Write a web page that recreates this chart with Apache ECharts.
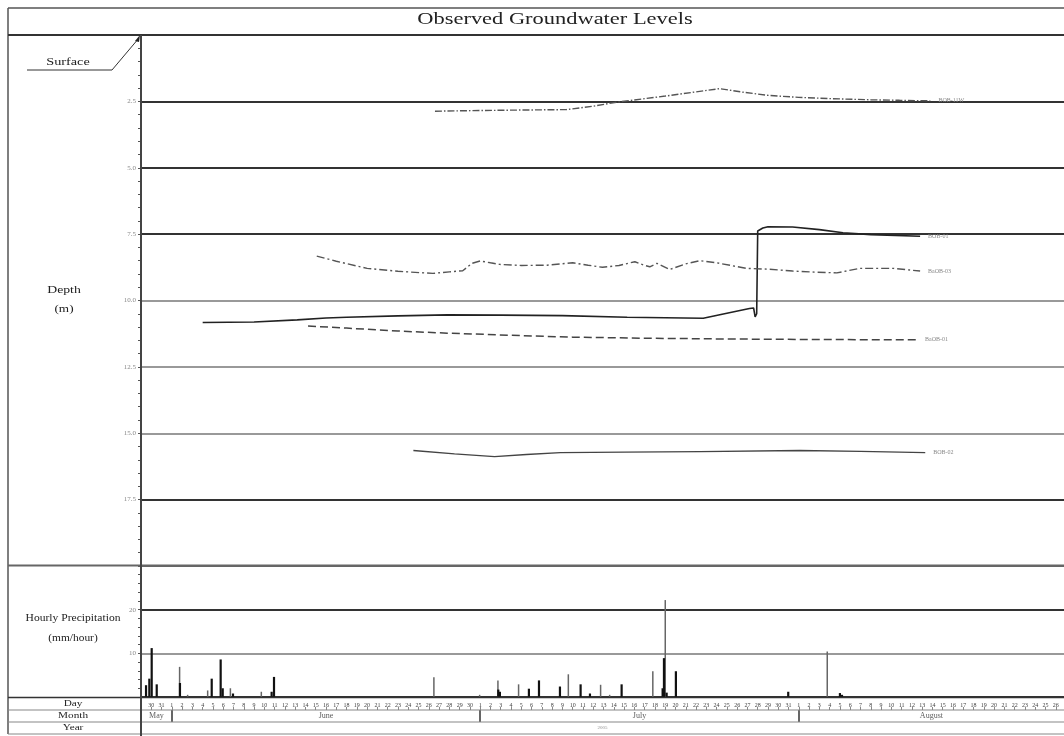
<!DOCTYPE html>
<html><head><meta charset="utf-8">
<script src="https://cdn.jsdelivr.net/npm/echarts@6/dist/echarts.min.js"></script>
<style>html,body{margin:0;padding:0;background:#fff}#c{width:1064px;height:736px}</style>
</head><body><div id="c"></div>
<script>
// x values: days since 1 June 2005 (0 = June 1)
const seriesNames = ['BOB-11W', 'BOB-01', 'BaOB-03', 'BaOB-01', 'BOB-02'];
const bob11w = [[25.6,2.87],[29,2.85],[33,2.83],[38.4,2.81],[41,2.68],[43.3,2.53],[48,2.3],[53.3,2.02],[55.5,2.15],[57.9,2.27],[61,2.35],[64.3,2.40],[68,2.44],[70.8,2.46],[73.8,2.48]];
const bob01 = [[3.0,10.83],[8,10.81],[12.2,10.73],[15,10.66],[17,10.63],[22,10.58],[26.8,10.54],[32,10.55],[38,10.57],[44.3,10.63],[48,10.65],[51.7,10.67],[54,10.48],[56.2,10.3],[56.6,10.28],[56.75,10.62],[56.9,10.5],[57.0,7.38],[57.5,7.27],[58,7.22],[60.4,7.23],[63,7.33],[65.3,7.45],[68,7.52],[72.8,7.58]];
const baob03 = [[14.1,8.33],[16,8.52],[19,8.79],[22,8.9],[25.4,8.98],[27,8.92],[28.3,8.88],[29.2,8.6],[30,8.51],[31,8.58],[31.9,8.64],[34,8.68],[36.5,8.67],[39,8.58],[40.5,8.67],[41.9,8.75],[43.5,8.68],[45.05,8.54],[46,8.68],[46.5,8.73],[47.2,8.6],[48.45,8.83],[50,8.62],[51.4,8.5],[53,8.58],[55.9,8.79],[58,8.82],[60.4,8.89],[62.5,8.93],[64.7,8.96],[66.9,8.79],[70.2,8.79],[72.8,8.89]];
const baob01 = [[13.25,10.96],[17,11.04],[22,11.15],[26.8,11.23],[33,11.31],[39,11.38],[46,11.42],[54,11.45],[63,11.47],[72.5,11.48]];
const bob02 = [[23.5,15.65],[27.5,15.78],[31.4,15.88],[34.5,15.8],[37.8,15.73],[44,15.71],[51.4,15.69],[61.1,15.65],[67,15.68],[73.3,15.73]];
const precipDark = [[-2.51,2.7],[-2.19,4.2],[-1.96,11.2],[-1.47,2.9],[0.79,3.2],[3.88,4.2],[4.75,8.6],[4.95,2],[5.95,0.8],[9.71,1.2],[9.94,4.6],[31.76,1.7],[31.92,1.2],[34.74,1.9],[35.72,3.8],[37.76,2.4],[39.77,2.9],[40.68,0.8],[43.76,2.9],[47.75,2],[47.88,8.9],[48.14,1],[49.04,5.9],[59.97,1.2],[65.0,0.9],[65.2,0.5]];
const precipLight = [[0.79,6.9],[1.57,0.5],[3.52,1.5],[5.73,2],[8.74,1.2],[25.53,4.5],[29.98,0.5],[31.76,3.8],[33.77,2.9],[38.61,5.2],[41.75,2.8],[42.63,0.5],[46.83,5.9],[48.04,22.2],[63.8,10.4]];
const monthNames = ['May', 'June', 'July', 'August'];
const monthStarts = [-3, 0, 30, 61];
const monthEnds = [0, 30, 61, 86.8];
const yearLabel = '2005';
const depthTicks = [2.5, 5.0, 7.5, 10.0, 12.5, 15.0, 17.5];
const precipTicks = [10, 20];

const X_MIN = -3, X_MAX = 86.8;
const L = 141;
const serif = 'Liberation Serif, Times New Roman, serif';

const chart = echarts.init(document.getElementById('c'), null, {renderer: 'canvas'});

function xAx(gi, extra) {
  return Object.assign({type: 'value', gridIndex: gi, min: X_MIN, max: X_MAX, show: false}, extra || {});
}
function yHidden(gi) { return {type: 'value', gridIndex: gi, min: 0, max: 1, show: false}; }

const lineStyles = [
  {color: '#555', width: 1.4, type: [7, 2, 1.5, 2]},
  {color: '#222', width: 1.6, type: 'solid'},
  {color: '#555', width: 1.4, type: [8, 3, 2, 3]},
  {color: '#444', width: 1.5, type: [8, 4]},
  {color: '#444', width: 1.3, type: 'solid'}
];
const lineData = [bob11w, bob01, baob03, baob01, bob02];

const lineSeries = lineData.map((d, i) => ({
  type: 'line', name: seriesNames[i], xAxisIndex: 0, yAxisIndex: 0,
  data: d, symbol: 'none', smooth: false,
  lineStyle: lineStyles[i],
  endLabel: {show: true, formatter: seriesNames[i], fontSize: 6, color: '#888', distance: 8, fontFamily: serif},
  z: 3
}));

const dayFmt = v => {
  const dt = new Date(2005, 5, 1 + Math.round(v));
  return String(dt.getDate());
};

const frame = [
  [8, 8, 1064, 8, '#555', 1.5],
  [8, 8, 8, 734, '#555', 1.5],
  [8, 35, 1064, 35, '#333', 2],
  [8, 565.5, 1064, 565.5, '#666', 2],
  [8, 697.5, 1064, 697.5, '#333', 1.5],
  [8, 710, 1064, 710, '#888', 1.2],
  [8, 722, 1064, 722, '#888', 1.2],
  [8, 734, 1064, 734, '#888', 1.2],
  [L, 35, L, 736, '#444', 2],
  [27, 70, 112, 70, '#333', 1],
  [112, 70, 139, 38, '#333', 1]
].map(a => ({type: 'line', shape: {x1: a[0], y1: a[1], x2: a[2], y2: a[3]}, style: {stroke: a[4], lineWidth: a[5]}, z: 10}));

const texts = [
  ['Observed Groundwater Levels', 555, 20, 17, 1.32],
  ['Surface', 68, 62, 9.5, 1.5],
  ['Depth', 64, 290, 11, 1.25],
  ['(m)', 64, 309, 11, 1.2],
  ['Hourly Precipitation', 73, 618, 9.5, 1.22],
  ['(mm/hour)', 73, 638, 9.5, 1.2],
  ['Day', 73, 704, 9, 1.25],
  ['Month', 73, 716, 9, 1.25],
  ['Year', 73, 728, 9, 1.25]
].map(a => ({type: 'text', x: a[1], y: a[2], z: 10, scaleX: a[4],
  style: {text: a[0], fontSize: a[3], fontFamily: serif, fill: '#222', align: 'center', verticalAlign: 'middle'}}));

const arrow = {type: 'polygon', shape: {points: [[140, 35], [135, 41], [139, 42]]}, style: {fill: '#222'}, z: 10};

const depthColors = ['#333', '#333', '#333', '#333', '#999', '#999', '#999', '#333', '#666'];

chart.setOption({
  animation: false,
  backgroundColor: '#fff',
  grid: [
    {left: L, right: 0, top: 35, height: 531},
    {left: L, right: 0, top: 566, height: 131},
    {left: L, right: 0, top: 698, height: 12},
    {left: L, right: 0, top: 710, height: 12},
    {left: L, right: 0, top: 722, height: 12}
  ],
  xAxis: [
    xAx(0), xAx(1),
    xAx(2, {show: true, interval: 1, position: 'bottom',
      axisLine: {show: false},
      axisTick: {show: true, inside: true, length: 3, lineStyle: {color: '#888'}},
      splitLine: {show: false},
      axisLabel: {show: true, inside: true, margin: 2, fontSize: 6, color: '#444', fontFamily: serif,
        showMinLabel: false, showMaxLabel: false, formatter: dayFmt, hideOverlap: false, interval: 0}
    }),
    xAx(3), xAx(4)
  ],
  yAxis: [
    {type: 'value', gridIndex: 0, inverse: true, min: 0, max: 20, interval: 2.5,
      axisLine: {show: true, onZero: false, lineStyle: {color: '#444', width: 2}},
      axisTick: {show: true, length: 3, lineStyle: {color: '#555'}},
      minorTick: {show: true, splitNumber: 5, length: 3, lineStyle: {color: '#555'}},
      splitLine: {show: true, lineStyle: {color: depthColors, width: 1.8}},
      axisLabel: {fontSize: 7, color: '#888', fontFamily: serif, margin: 5,
        formatter: v => depthTicks.indexOf(v) >= 0 ? v.toFixed(1) : ''}
    },
    {type: 'value', gridIndex: 1, min: 0, max: 30, interval: 10,
      axisLine: {show: true, onZero: false, lineStyle: {color: '#444', width: 2}},
      axisTick: {show: true, length: 3, lineStyle: {color: '#555'}},
      minorTick: {show: true, splitNumber: 5, length: 3, lineStyle: {color: '#555'}},
      splitLine: {show: true, lineStyle: {color: ['#333', '#999', '#333', '#666'], width: 1.8}},
      axisLabel: {fontSize: 7, color: '#888', fontFamily: serif, margin: 5,
        formatter: v => precipTicks.indexOf(v) >= 0 ? String(v) : ''}
    },
    yHidden(2), yHidden(3), yHidden(4)
  ],
  series: lineSeries.concat([
    {type: 'bar', name: 'precipLight', xAxisIndex: 1, yAxisIndex: 1, data: precipLight,
      barWidth: 1.5, barGap: '-100%', itemStyle: {color: '#666'}, z: 2},
    {type: 'bar', name: 'precipDark', xAxisIndex: 1, yAxisIndex: 1, data: precipDark,
      barWidth: 2.2, barGap: '-100%', itemStyle: {color: '#111'}, z: 3},
    {type: 'scatter', name: 'months', xAxisIndex: 3, yAxisIndex: 3, symbolSize: 0,
      data: monthNames.map((m, i) => ({value: [(monthStarts[i] + monthEnds[i]) / 2, 0.5], name: m})),
      label: {show: true, position: 'inside', formatter: p => p.name, fontSize: 8, color: '#333', fontFamily: serif},
      markLine: {silent: true, symbol: 'none', label: {show: false},
        lineStyle: {color: '#333', width: 1.5, type: 'solid'},
        data: monthStarts.slice(1).map(v => ({xAxis: v}))}
    },
    {type: 'scatter', name: 'year', xAxisIndex: 4, yAxisIndex: 4, symbolSize: 0,
      data: [{value: [(X_MIN + X_MAX) / 2, 0.5], name: yearLabel}],
      label: {show: true, position: 'inside', formatter: p => p.name, fontSize: 5, color: '#777', fontFamily: serif}
    }
  ]),
  graphic: frame.concat(texts).concat([arrow])
});
</script></body></html>
